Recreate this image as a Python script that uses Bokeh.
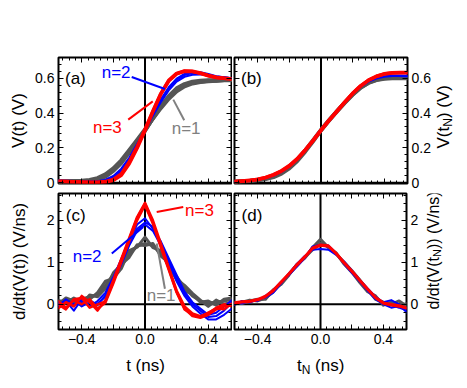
import numpy as np
from bokeh.plotting import figure
from bokeh.models import LinearAxis, FixedTicker, Span, Label
from bokeh.layouts import column, row
from bokeh.embed import file_html
from bokeh.resources import INLINE

FONT = "Liberation Sans"
GRAY, BLUE, RED, LGRAY = "#555555", "#0000ff", "#ff0000", "#808080"

# ---------------- data ----------------
T = [-0.55, -0.50, -0.45, -0.40, -0.35, -0.30, -0.25, -0.20, -0.15, -0.10, -0.05, 0.00,
     0.05, 0.10, 0.15, 0.20, 0.25, 0.30, 0.35, 0.40, 0.45, 0.50, 0.55]

# (a) V(t)
VA_GRAY_1 = [0.006, 0.006, 0.007, 0.008, 0.011, 0.020, 0.040, 0.075, 0.120, 0.180, 0.240, 0.300, 0.370, 0.435, 0.490, 0.535, 0.560, 0.575, 0.580, 0.585, 0.585, 0.590, 0.590]
VA_GRAY_2 = [0.008, 0.008, 0.009, 0.011, 0.015, 0.026, 0.048, 0.082, 0.128, 0.186, 0.245, 0.305, 0.368, 0.428, 0.482, 0.525, 0.553, 0.570, 0.578, 0.582, 0.585, 0.588, 0.588]
VA_GRAY_3 = [0.004, 0.005, 0.006, 0.007, 0.010, 0.017, 0.035, 0.068, 0.113, 0.173, 0.236, 0.298, 0.372, 0.440, 0.497, 0.542, 0.566, 0.580, 0.585, 0.588, 0.588, 0.592, 0.592]
VA_BLUE_1 = [0.010, 0.010, 0.008, 0.006, 0.005, 0.006, 0.013, 0.032, 0.072, 0.135, 0.215, 0.300, 0.390, 0.470, 0.540, 0.590, 0.618, 0.630, 0.630, 0.620, 0.610, 0.605, 0.600]
VA_BLUE_2 = [0.012, 0.011, 0.009, 0.007, 0.006, 0.008, 0.017, 0.038, 0.080, 0.143, 0.222, 0.303, 0.385, 0.462, 0.530, 0.580, 0.608, 0.620, 0.622, 0.615, 0.607, 0.602, 0.598]
VA_BLUE_3 = [0.008, 0.008, 0.007, 0.005, 0.004, 0.005, 0.010, 0.028, 0.066, 0.128, 0.208, 0.297, 0.395, 0.478, 0.548, 0.598, 0.625, 0.636, 0.634, 0.624, 0.612, 0.606, 0.600]
VA_RED_1 = [0.006, 0.006, 0.004, 0.002, 0.001, 0.001, 0.004, 0.014, 0.042, 0.108, 0.198, 0.300, 0.408, 0.508, 0.584, 0.625, 0.640, 0.638, 0.628, 0.614, 0.604, 0.600, 0.596]
VA_RED_2 = [0.008, 0.007, 0.005, 0.003, 0.002, 0.002, 0.006, 0.018, 0.050, 0.118, 0.206, 0.305, 0.412, 0.512, 0.588, 0.628, 0.642, 0.640, 0.630, 0.616, 0.606, 0.600, 0.596]

# (b) V(t_N)
VB_GRAY_1 = [0.004, 0.006, 0.009, 0.013, 0.020, 0.032, 0.052, 0.082, 0.124, 0.178, 0.238, 0.300, 0.356, 0.408, 0.458, 0.505, 0.545, 0.574, 0.591, 0.600, 0.604, 0.605, 0.605]
VB_GRAY_2 = [0.006, 0.008, 0.011, 0.016, 0.024, 0.037, 0.058, 0.090, 0.132, 0.185, 0.243, 0.303, 0.358, 0.410, 0.460, 0.507, 0.546, 0.573, 0.589, 0.597, 0.600, 0.600, 0.600]
VB_BLUE_1 = [0.005, 0.008, 0.011, 0.016, 0.026, 0.040, 0.062, 0.093, 0.134, 0.185, 0.240, 0.300, 0.356, 0.408, 0.460, 0.510, 0.552, 0.582, 0.602, 0.612, 0.616, 0.616, 0.614]
VB_BLUE_2 = [0.007, 0.009, 0.013, 0.018, 0.028, 0.043, 0.065, 0.097, 0.138, 0.188, 0.243, 0.302, 0.357, 0.410, 0.462, 0.511, 0.552, 0.580, 0.598, 0.608, 0.612, 0.612, 0.610]
VB_RED_1 = [0.005, 0.008, 0.012, 0.018, 0.029, 0.045, 0.066, 0.096, 0.136, 0.186, 0.241, 0.300, 0.356, 0.408, 0.462, 0.512, 0.555, 0.588, 0.610, 0.624, 0.630, 0.632, 0.632]
VB_RED_2 = [0.006, 0.009, 0.013, 0.019, 0.030, 0.046, 0.068, 0.098, 0.138, 0.188, 0.243, 0.302, 0.358, 0.410, 0.463, 0.513, 0.556, 0.589, 0.611, 0.625, 0.631, 0.633, 0.633]

# (c) d/dt V(t)
DC_GRAY_1 = [0.05, 0.10, 0.02, 0.12, 0.18, 0.22, 0.45, 0.70, 0.92, 1.20, 1.38, 1.45, 1.40, 1.22, 0.95, 0.66, 0.40, 0.20, 0.08, 0.02, 0.05, 0.08, 0.12]
DC_GRAY_2 = [0.10, 0.03, 0.15, 0.05, 0.12, 0.28, 0.55, 0.62, 0.85, 1.28, 1.36, 1.60, 1.35, 1.28, 0.90, 0.60, 0.45, 0.26, 0.10, -0.05, 0.10, 0.00, 0.05]
DC_GRAY_3 = [0.00, 0.15, 0.08, 0.00, 0.22, 0.18, 0.38, 0.75, 0.95, 1.12, 1.42, 1.40, 1.45, 1.15, 1.00, 0.58, 0.32, 0.24, 0.05, 0.08, -0.02, 0.12, 0.15]
DC_BLUE_1 = [0.05, -0.10, 0.10, -0.05, 0.05, 0.02, 0.18, 0.55, 1.00, 1.45, 1.80, 1.95, 1.85, 1.45, 1.05, 0.62, 0.25, 0.00, -0.15, -0.30, -0.28, -0.15, 0.05]
DC_BLUE_2 = [0.00, 0.08, -0.15, 0.12, -0.05, 0.08, 0.28, 0.65, 1.08, 1.50, 1.90, 2.05, 1.80, 1.50, 1.10, 0.70, 0.30, 0.05, -0.10, -0.25, -0.20, -0.05, 0.10]
DC_BLUE_3 = [-0.05, 0.12, 0.00, 0.05, 0.10, -0.02, 0.22, 0.58, 0.95, 1.40, 1.75, 1.90, 1.75, 1.40, 1.00, 0.55, 0.20, -0.05, -0.22, -0.36, -0.36, -0.25, -0.10]
DC_RED_1 = [0.00, -0.12, 0.12, 0.15, -0.08, 0.00, 0.07, 0.55, 1.05, 1.55, 2.05, 2.40, 1.95, 1.40, 0.85, 0.30, -0.10, -0.28, -0.32, -0.25, -0.12, -0.05, 0.00]
DC_RED_2 = [-0.10, 0.05, -0.05, 0.20, 0.05, -0.15, 0.10, 0.58, 1.08, 1.58, 2.08, 2.42, 2.00, 1.45, 0.88, 0.33, -0.05, -0.22, -0.28, -0.22, -0.08, 0.00, -0.05]
DC_RED_3 = [0.08, -0.08, 0.10, 0.00, 0.12, -0.10, 0.04, 0.50, 1.00, 1.50, 2.00, 2.36, 1.92, 1.36, 0.82, 0.28, -0.12, -0.25, -0.30, -0.20, -0.10, -0.12, 0.02]

# (d) d/dt V(t_N)
DD_GRAY_1 = [0.00, 0.05, 0.10, 0.08, 0.15, 0.30, 0.50, 0.72, 0.92, 1.12, 1.30, 1.45, 1.38, 1.20, 1.00, 0.80, 0.58, 0.35, 0.12, 0.05, 0.00, 0.08, -0.05]
DD_GRAY_2 = [0.05, 0.02, 0.08, 0.12, 0.12, 0.35, 0.48, 0.70, 0.95, 1.10, 1.35, 1.55, 1.35, 1.22, 0.96, 0.76, 0.52, 0.30, 0.20, -0.02, 0.05, -0.05, 0.02]
DD_BLUE_1 = [0.02, 0.05, 0.06, 0.10, 0.18, 0.32, 0.52, 0.72, 0.93, 1.12, 1.35, 1.40, 1.38, 1.20, 0.98, 0.78, 0.56, 0.35, 0.15, 0.02, -0.02, -0.08, -0.15]
DD_BLUE_2 = [-0.02, 0.08, 0.04, 0.12, 0.16, 0.28, 0.50, 0.74, 0.96, 1.15, 1.30, 1.32, 1.30, 1.18, 1.02, 0.80, 0.58, 0.38, 0.18, 0.05, 0.10, 0.00, -0.20]
DD_BLUE_3 = [0.04, 0.02, 0.08, 0.08, 0.20, 0.34, 0.54, 0.70, 0.90, 1.10, 1.38, 1.42, 1.40, 1.22, 0.96, 0.75, 0.54, 0.32, 0.12, 0.00, -0.08, -0.04, -0.10]
DD_RED_1 = [0.02, 0.05, 0.06, 0.10, 0.18, 0.32, 0.52, 0.72, 0.93, 1.12, 1.33, 1.40, 1.38, 1.20, 0.98, 0.78, 0.56, 0.35, 0.15, 0.02, -0.02, -0.05, -0.10]
DD_RED_2 = [0.04, 0.07, 0.08, 0.12, 0.20, 0.34, 0.54, 0.74, 0.95, 1.14, 1.35, 1.42, 1.40, 1.22, 1.00, 0.80, 0.58, 0.37, 0.17, 0.04, 0.00, -0.03, -0.08]

X_TICKS = [-0.4, -0.2, 0.0, 0.2, 0.4]
X_TICK_LABELS = {-0.4: "\u22120.4", -0.2: "", 0.0: "0.0", 0.2: "", 0.4: "0.4"}
V_TICKS = [0.0, 0.2, 0.4, 0.6]
D_TICKS = [0, 1, 2]

# annotation text positions (data units): (text, x, y, color)
ANN_A = [("(a)", -0.506, 0.598, "black"), ("n=2", -0.274, 0.634, BLUE),
         ("n=3", -0.329, 0.316, RED), ("n=1", 0.169, 0.309, LGRAY)]
PTR_A = [(-0.084, 0.607, 0.126, 0.538, BLUE), (-0.106, 0.362, 0.049, 0.467, RED),
         (0.248, 0.358, 0.179, 0.477, LGRAY)]
ANN_C = [("(c)", -0.501, 2.12, "black"), ("n=3", 0.253, 2.24, RED),
         ("n=2", -0.457, 1.14, BLUE), ("n=1", 0.011, 0.21, LGRAY)]
PTR_C = [(0.242, 2.32, 0.074, 2.20, RED), (-0.21, 1.21, -0.011, 1.84, BLUE),
         (0.126, 0.37, 0.074, 1.45, LGRAY)]
ANN_B = [("(b)", -0.506, 0.598, "black")]
ANN_D = [("(d)", -0.502, 2.12, "black")]

XR = (-0.547, 0.547)
VR_A = (-0.005, 0.719)
DR = (-0.6, 2.64)
X_MINOR = list(np.round(np.arange(-0.52, 0.521, 0.04), 3))
V_MINOR = list(np.round(np.arange(0.0, 0.72, 0.04), 3))
D_MINOR = list(np.round(np.arange(-0.6, 2.61, 0.2), 3))

M = 8  # page margin reproduced inside the layout


def make_fig(fw, fh, yr, bl, br, bt, bb):
    p = figure(width=bl + fw + br, height=bt + fh + bb, x_range=XR, y_range=yr,
               x_axis_location=None, y_axis_location=None, toolbar_location=None,
               output_backend="svg", min_border_left=bl, min_border_right=br,
               min_border_top=bt, min_border_bottom=bb, title=None)
    p.grid.visible = False
    p.outline_line_color = "black"
    p.outline_line_width = 2
    p.outline_line_alpha = 1
    p.background_fill_color = "white"
    p.border_fill_color = "white"
    p.add_layout(Span(location=0, dimension="height", line_color="black",
                      line_width=2, level="underlay"))
    p.add_layout(Span(location=0, dimension="width", line_color="black",
                      line_width=2, level="underlay"))
    return p


def strip(w, h):
    s = figure(width=w, height=h, x_range=(0, 1), y_range=(0, 1),
               x_axis_location=None, y_axis_location=None, toolbar_location=None,
               output_backend="svg", min_border_left=0, min_border_right=0,
               min_border_top=0, min_border_bottom=0, title=None)
    s.grid.visible = False
    s.outline_line_color = None
    s.border_fill_color = "white"
    return s


def add_axis(p, side, ticks, minor, show, overrides=None, label=None, lstand=4):
    ax = LinearAxis(ticker=FixedTicker(ticks=ticks, minor_ticks=minor))
    ax.axis_line_color = None
    ax.major_tick_in = 5
    ax.major_tick_out = 0
    ax.minor_tick_in = 3
    ax.minor_tick_out = 0
    ax.major_tick_line_color = "black"
    ax.minor_tick_line_color = "black"
    ax.major_tick_line_width = 1
    ax.minor_tick_line_width = 1
    if show:
        ax.major_label_text_font = FONT
        ax.major_label_text_font_size = "14px"
        ax.major_label_text_color = "black"
        ax.major_label_standoff = 4
        if overrides:
            ax.major_label_overrides = overrides
    else:
        ax.major_label_overrides = {t: "" for t in ticks}
        ax.major_label_text_font_size = "1px"
        ax.major_label_standoff = 0
    if label:
        ax.axis_label = label
        ax.axis_label_text_font = FONT
        ax.axis_label_text_font_size = "17px"
        ax.axis_label_text_font_style = "normal"
        ax.axis_label_text_color = "black"
        ax.axis_label_standoff = lstand
    p.add_layout(ax, side)


def draw(p, series):
    for ys, color, w in series:
        p.line(T, ys, line_color=color, line_width=w, line_join="round", line_cap="round")


def annotate(p, anns, ptrs=()):
    for x0, y0, x1, y1, c in ptrs:
        p.segment(x0=[x0], y0=[y0], x1=[x1], y1=[y1], line_color=c, line_width=2)
    for txt, x, y, c in anns:
        p.add_layout(Label(x=x, y=y, text=txt, text_color=c, text_font=FONT,
                           text_font_size="17px", text_align="left",
                           text_baseline="middle"))


def slabel(p, x, y, txt, size="17px", angle=0.0, align="left"):
    p.add_layout(Label(x=x, y=y, x_units="screen", y_units="screen", text=txt,
                       text_font=FONT, text_font_size=size, text_color="black",
                       text_align=align, text_baseline="middle", angle=angle))


pa = make_fig(173, 126, VR_A, 50 + M, 1, 49 + M, 9)
pb = make_fig(174, 126, VR_A, 2, 25, 49 + M, 9)
pc = make_fig(173, 136, DR, 50 + M, 1, 1, 22)
pd = make_fig(174, 136, DR, 2, 13, 1, 22)

# axes
add_axis(pa, "left", V_TICKS, V_MINOR, True, label="V(t) (V)", lstand=4)
add_axis(pa, "right", V_TICKS, V_MINOR, False)
add_axis(pa, "above", X_TICKS, X_MINOR, False)
add_axis(pa, "below", X_TICKS, X_MINOR, False)

add_axis(pb, "left", V_TICKS, V_MINOR, False)
add_axis(pb, "right", V_TICKS, V_MINOR, True)
add_axis(pb, "above", X_TICKS, X_MINOR, False)
add_axis(pb, "below", X_TICKS, X_MINOR, False)

add_axis(pc, "left", D_TICKS, D_MINOR, True, label="d/dt(V(t)) (V/ns)", lstand=15)
add_axis(pc, "right", D_TICKS, D_MINOR, False)
add_axis(pc, "above", X_TICKS, X_MINOR, False)
add_axis(pc, "below", X_TICKS, X_MINOR, True, overrides=X_TICK_LABELS)

add_axis(pd, "left", D_TICKS, D_MINOR, False)
add_axis(pd, "right", D_TICKS, D_MINOR, True)
add_axis(pd, "above", X_TICKS, X_MINOR, False)
add_axis(pd, "below", X_TICKS, X_MINOR, True, overrides=X_TICK_LABELS)

# data
draw(pa, [(VA_GRAY_1, GRAY, 4), (VA_GRAY_2, GRAY, 4), (VA_GRAY_3, GRAY, 4),
          (VA_BLUE_1, BLUE, 2), (VA_BLUE_2, BLUE, 2), (VA_BLUE_3, BLUE, 2),
          (VA_RED_1, RED, 3.5), (VA_RED_2, RED, 3.5)])
draw(pb, [(VB_GRAY_1, GRAY, 4), (VB_GRAY_2, GRAY, 4),
          (VB_BLUE_1, BLUE, 2), (VB_BLUE_2, BLUE, 2),
          (VB_RED_1, RED, 3.5), (VB_RED_2, RED, 3.5)])
draw(pc, [(DC_GRAY_1, GRAY, 3), (DC_GRAY_2, GRAY, 3), (DC_GRAY_3, GRAY, 3),
          (DC_BLUE_1, BLUE, 2), (DC_BLUE_2, BLUE, 2), (DC_BLUE_3, BLUE, 2),
          (DC_RED_1, RED, 2.5), (DC_RED_2, RED, 2.5), (DC_RED_3, RED, 2.5)])
draw(pd, [(DD_GRAY_1, GRAY, 3), (DD_GRAY_2, GRAY, 3),
          (DD_BLUE_1, BLUE, 2), (DD_BLUE_2, BLUE, 2), (DD_BLUE_3, BLUE, 2),
          (DD_RED_1, RED, 2.5), (DD_RED_2, RED, 2.5)])

annotate(pa, ANN_A, PTR_A)
annotate(pb, ANN_B)
annotate(pc, ANN_C, PTR_C)
annotate(pd, ANN_D)

# label strips (texts with subscript N are assembled from pieces)
R = np.pi / 2
sb = strip(22, 192)
slabel(sb, 10, 35.0, "V(t", angle=R)
slabel(sb, 14, 56.7, "N", size="12px", angle=R)
slabel(sb, 10, 65.4, ") (V)", angle=R)

sd = strip(24, 159)
slabel(sd, 12, 20.0, "d/dt(V(t", size="16px", angle=R)
slabel(sd, 15.5, 72.5, "N", size="11px", angle=R)
slabel(sd, 12, 80.4, ")) (V/ns)", size="16px", angle=R)

sx = strip(455, 30)
slabel(sx, 137 + M, 16, "t (ns)", align="center")
slabel(sx, 288.5 + M, 16, "t")
slabel(sx, 293.2 + M, 12, "N", size="12px")
slabel(sx, 306.6 + M, 16, "(ns)")

layout = column(row(pa, pb, sb), row(pc, pd, sd), sx)

open("out.html", "w").write(file_html(layout, INLINE))
